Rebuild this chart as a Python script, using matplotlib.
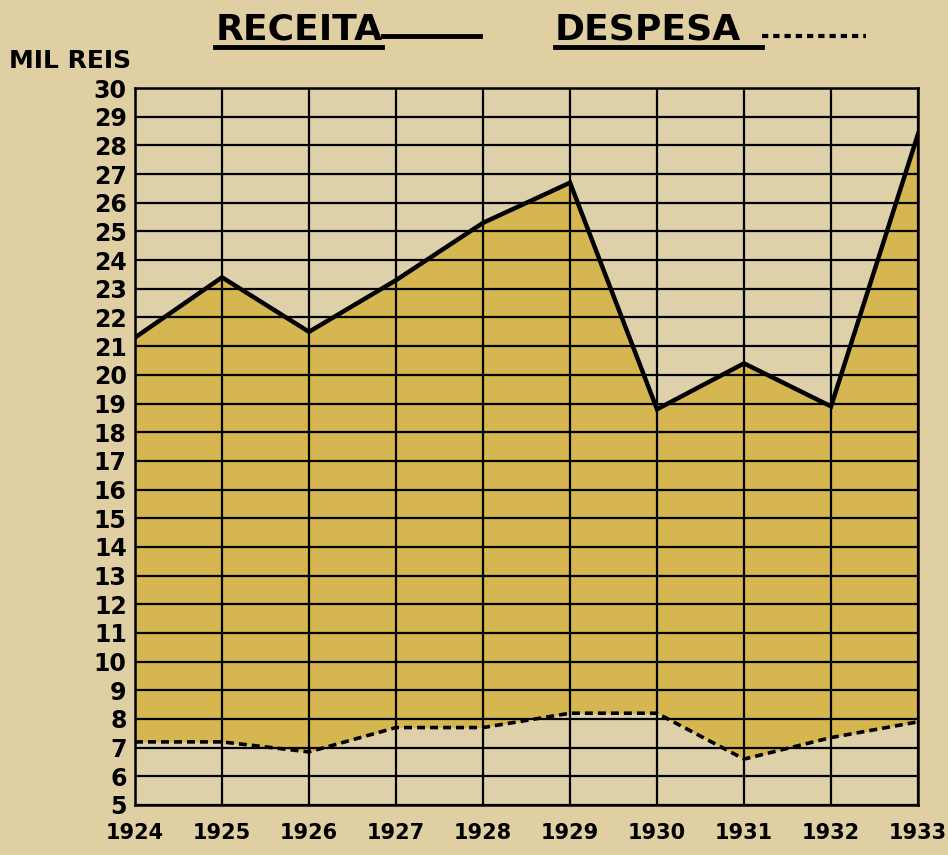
import matplotlib
matplotlib.use("Agg")
import matplotlib.pyplot as plt
from matplotlib.lines import Line2D

years = [1924, 1925, 1926, 1927, 1928, 1929, 1930, 1931, 1932, 1933]
year_labels = ["1924", "1925", "1926", "1927", "1928", "1929", "1930", "1931", "1932", "1933"]
receita = [21.3, 23.4, 21.5, 23.3, 25.3, 26.7, 18.8, 20.4, 18.9, 28.4]
despesa = [7.2, 7.2, 6.85, 7.7, 7.7, 8.2, 8.2, 6.6, 7.35, 7.9]
y_ticks = list(range(5, 31))

bg = "#E0CFA3"
plot_bg = "#DED0A9"
fill_c = "#D5B651"

fig = plt.figure(figsize=(9.48, 8.55), dpi=100)
fig.patch.set_facecolor(bg)
ax = fig.add_axes([0.1424, 0.0585, 0.8260, 0.8385])
ax.set_facecolor(plot_bg)

ax.fill_between(years, despesa, receita, color=fill_c, zorder=1, linewidth=0)
ax.plot(years, receita, color="black", lw=3.2, zorder=3, solid_joinstyle="miter")
ax.plot(years, despesa, color="black", lw=2.6, ls=(0, (2.2, 1.4)), zorder=3)

ax.set_xlim(1924, 1933)
ax.set_ylim(5, 30)
ax.set_xticks(years)
ax.set_xticklabels(year_labels)
ax.set_yticks(y_ticks)
ax.set_yticklabels([str(v) for v in y_ticks])
ax.grid(True, color="black", lw=1.6, zorder=2)
ax.set_axisbelow(False)
for s in ax.spines.values():
    s.set_linewidth(1.8)
    s.set_zorder(4)
ax.tick_params(length=0, pad=6)
for lab in ax.get_yticklabels():
    lab.set_fontweight("bold")
    lab.set_fontsize(17)
for lab in ax.get_xticklabels():
    lab.set_fontweight("bold")
    lab.set_fontsize(15)
ax.tick_params(axis="x", pad=13)

fig.text(0.009, 0.929, "MIL REIS", fontsize=18, fontweight="bold", ha="left", va="center")
fig.text(0.227, 0.966, "RECEITA", fontsize=26, fontweight="bold", ha="left", va="center")
fig.text(0.585, 0.966, "DESPESA", fontsize=26, fontweight="bold", ha="left", va="center")
fig.add_artist(Line2D([0.227, 0.403], [0.945, 0.945], color="black", lw=3.5, transform=fig.transFigure))
fig.add_artist(Line2D([0.585, 0.804], [0.945, 0.945], color="black", lw=3.5, transform=fig.transFigure))
fig.add_artist(Line2D([0.404, 0.506], [0.958, 0.958], color="black", lw=3.5, transform=fig.transFigure))
fig.add_artist(Line2D([0.804, 0.913], [0.958, 0.958], color="black", lw=3, ls=(0, (1.5, 1.2)), transform=fig.transFigure))

fig.savefig("out.png", dpi=100, facecolor=bg)
